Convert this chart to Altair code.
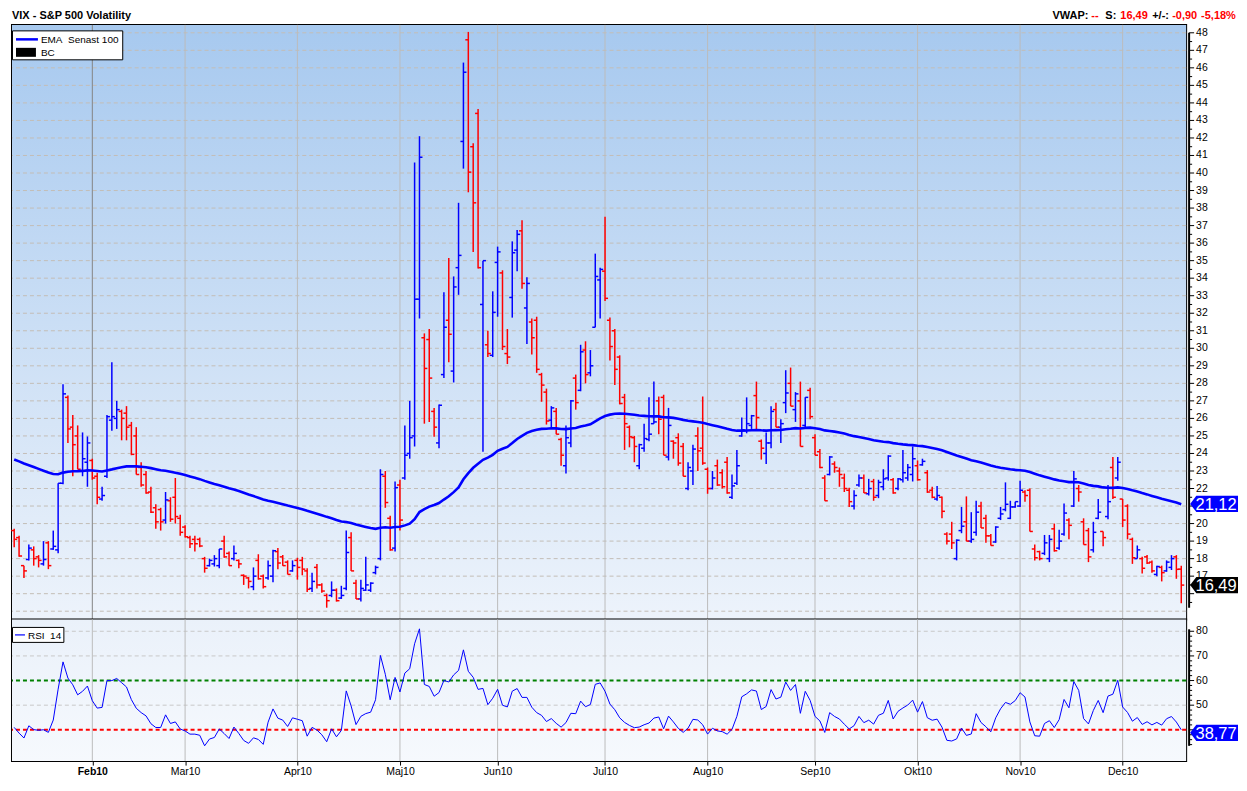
import json
import altair as alt
import pandas as pd

# ---------------- data (VIX daily bars, 7 Jan – 17 Dec 2010) -------------
opens = [19.6, 19.2, 17.6, 17.95, 18.5, 18.1, 17.7, 18.9, 18.55, 18.5,
         22.3, 27.2, 25.5, 25.0, 23.0, 23.5, 23.6, 22.7, 21.4, 22.7,
         25.9, 26.0, 26.4, 26.3, 25.6, 25.0, 23.2, 22.8, 21.8, 20.9,
         20.8, 20.2, 21.3, 21.5, 20.3, 19.8, 19.2, 19.1, 19.1, 18.0,
         17.6, 17.7, 17.6, 19.0, 18.3, 18.0, 17.9, 17.05, 16.9, 16.4,
         17.9, 17.0, 16.9, 17.0, 18.4, 18.1, 17.8, 17.3, 17.9, 17.9,
         17.3, 16.3, 17.5, 16.5, 15.9, 15.9, 16.2, 15.75, 16.3, 19.2,
         16.6, 15.7, 16.2, 16.2, 17.2, 18.0, 22.7, 20.3, 18.6, 22.2,
         22.6, 24.0, 25.0, 32.8, 30.6, 30.5, 26.4, 24.6, 28.5, 31.6,
         28.7, 34.6, 41.8, 47.6, 41.5, 43.4, 32.5, 30.2, 29.6, 34.9,
         34.3, 29.7, 32.9, 35.6, 36.7, 32.3, 31.5, 31.6, 28.5, 27.5,
         25.9, 26.4, 24.8, 23.3, 24.6, 28.3, 27.6, 29.9, 28.6, 31.2,
         33.9, 34.4, 31.6, 31.0, 29.5, 27.2, 25.5, 24.9, 23.3, 24.3,
         24.8, 25.7, 27.0, 27.2, 23.8, 24.7, 24.9, 24.4, 22.0, 23.0,
         25.0, 24.3, 23.1, 22.0, 23.3, 22.9, 23.5, 21.5, 22.3, 25.0,
         25.3, 25.6, 27.3, 24.7, 24.0, 24.6, 26.5, 25.5, 26.9, 28.0,
         26.5, 27.0, 25.6, 27.6, 24.9, 24.1, 22.6, 22.8, 23.4, 23.0,
         22.6, 21.9, 21.0, 22.2, 22.6, 21.7, 22.4, 21.6, 22.1, 22.6,
         22.5, 22.0, 22.5, 22.6, 22.8, 23.3, 23.35, 22.9, 21.9, 21.4,
         21.5, 19.4, 19.4, 18.0, 19.6, 20.1, 19.0, 19.5, 21.0, 20.3,
         19.3, 18.95, 20.3, 20.8, 20.3, 20.95, 21.0, 21.8, 21.9, 18.55,
         18.4, 18.3, 18.0, 19.7, 18.6, 19.4, 20.2, 21.0, 22.0, 20.1,
         19.6, 18.5, 20.3, 19.55, 20.4, 23.2, 22.6, 21.4, 21.0, 19.1,
         18.0, 18.0, 18.1, 17.8, 17.1, 17.5, 17.3, 17.5, 18.1, 17.4]
highs = [19.7, 19.3, 17.6, 18.8, 18.7, 18.2, 19.0, 19.0, 19.6, 22.3,
         27.95, 27.3, 26.2, 25.6, 25.2, 24.97, 23.7, 22.9, 22.1, 26.2,
         29.2, 27.0, 26.5, 26.7, 25.8, 25.5, 23.5, 23.0, 22.1, 21.1,
         20.9, 21.8, 21.5, 22.6, 20.5, 19.9, 19.3, 19.3, 19.2, 18.1,
         18.0, 18.2, 18.55, 19.3, 18.4, 18.75, 17.95, 17.1, 16.95, 17.5,
         18.25, 17.1, 17.9, 18.5, 18.6, 18.2, 17.9, 17.9, 18.05, 18.1,
         17.45, 17.2, 17.7, 16.6, 16.0, 16.7, 16.3, 16.45, 19.6, 19.5,
         16.8, 16.8, 18.1, 16.65, 17.6, 23.1, 23.0, 20.45, 22.4, 22.5,
         25.6, 27.0, 40.6, 42.1, 30.85, 31.1, 26.6, 26.8, 33.2, 35.15,
         34.1, 38.3, 46.3, 48.05, 41.7, 43.65, 35.0, 31.0, 33.25, 35.8,
         34.45, 31.1, 36.1, 36.75, 37.3, 34.05, 31.7, 31.8, 28.6, 27.7,
         26.7, 26.6, 24.9, 25.6, 27.05, 28.5, 30.2, 30.4, 29.9, 35.4,
         34.6, 37.5, 31.75, 31.1, 29.6, 27.4, 25.6, 25.0, 24.55, 25.7,
         27.2, 28.1, 27.25, 27.35, 26.6, 24.75, 25.15, 24.6, 23.5, 24.5,
         25.5, 27.25, 23.2, 23.0, 23.65, 23.1, 23.8, 22.8, 24.2, 26.05,
         27.2, 26.2, 28.1, 24.8, 25.2, 26.7, 26.9, 25.95, 28.75, 28.9,
         27.5, 28.1, 27.2, 27.75, 25.1, 24.25, 22.75, 23.85, 23.55, 23.2,
         22.85, 22.05, 21.9, 22.8, 22.8, 22.55, 22.55, 22.5, 23.1, 23.9,
         22.6, 22.6, 24.2, 23.4, 24.4, 23.6, 23.7, 23.05, 22.1, 22.15,
         21.55, 19.5, 20.1, 19.1, 20.95, 21.55, 20.65, 21.3, 21.25, 20.5,
         19.4, 19.85, 20.95, 22.35, 21.3, 21.25, 22.45, 21.9, 22.0, 18.8,
         18.45, 19.35, 19.35, 20.0, 19.65, 21.15, 20.3, 23.0, 22.2, 20.3,
         19.75, 20.1, 21.4, 19.55, 22.2, 23.8, 23.8, 21.4, 21.1, 19.2,
         18.75, 18.1, 18.2, 17.9, 17.6, 17.6, 17.9, 18.2, 18.2, 17.6]
lows = [18.65, 18.1, 16.9, 17.9, 17.6, 17.5, 17.6, 17.4, 18.5, 18.3,
        22.25, 24.6, 22.7, 23.1, 22.7, 22.1, 22.5, 21.1, 21.3, 22.6,
        25.3, 25.4, 24.75, 24.75, 23.9, 22.8, 22.1, 21.7, 20.6, 19.7,
        19.6, 20.0, 20.1, 20.0, 19.3, 19.2, 18.6, 18.4, 18.65, 17.2,
        17.55, 17.55, 17.45, 18.05, 17.6, 17.9, 17.45, 16.5, 16.3, 16.2,
        16.8, 16.3, 16.8, 16.65, 17.4, 17.6, 17.1, 17.25, 16.8, 17.05,
        16.1, 16.1, 16.3, 16.05, 15.2, 15.8, 15.55, 15.7, 16.2, 17.3,
        15.7, 15.55, 16.15, 16.1, 17.1, 17.9, 20.9, 18.45, 18.4, 19.6,
        22.5, 23.7, 24.4, 31.7, 25.7, 25.8, 24.95, 24.3, 28.3, 29.2,
        28.05, 33.05, 40.25, 38.9, 35.5, 34.55, 24.1, 29.5, 29.5, 31.8,
        29.9, 29.1, 31.75, 34.4, 33.4, 30.25, 29.65, 28.6, 26.95, 25.65,
        25.4, 25.1, 23.3, 22.85, 24.35, 26.5, 27.55, 28.0, 28.4, 31.2,
        31.7, 32.7, 29.3, 27.9, 26.8, 24.2, 24.35, 23.5, 23.1, 24.1,
        24.7, 25.7, 25.1, 23.9, 23.6, 23.7, 23.3, 22.7, 21.9, 22.2,
        23.0, 23.35, 21.7, 21.95, 22.15, 22.0, 21.7, 21.4, 22.2, 24.95,
        25.15, 25.4, 25.35, 23.65, 23.4, 24.3, 25.5, 24.6, 26.3, 26.7,
        25.8, 24.4, 25.4, 25.95, 23.9, 23.15, 21.3, 22.75, 22.9, 22.1,
        21.8, 20.95, 20.8, 22.1, 21.75, 21.6, 21.3, 21.45, 21.9, 22.45,
        21.7, 21.9, 22.35, 22.45, 22.4, 22.45, 23.3, 21.75, 21.45, 21.3,
        20.3, 18.8, 18.55, 17.9, 19.45, 19.0, 18.9, 19.3, 19.75, 18.9,
        18.75, 18.9, 20.2, 20.7, 20.25, 20.9, 20.95, 21.25, 19.55, 17.9,
        17.9, 18.2, 17.8, 18.4, 18.5, 19.3, 19.1, 20.95, 21.25, 18.8,
        17.8, 18.35, 20.25, 18.7, 20.25, 21.4, 22.45, 19.8, 19.1, 17.7,
        18.0, 17.15, 17.7, 17.2, 17.0, 16.7, 17.25, 17.35, 16.85, 15.45]
closes = [19.1, 18.15, 17.3, 18.6, 18.0, 17.9, 17.95, 17.6, 18.7, 22.3,
          27.4, 25.4, 24.5, 23.1, 23.7, 24.6, 22.6, 21.5, 21.6, 26.1,
          26.1, 26.5, 26.0, 25.5, 23.95, 22.8, 22.2, 21.75, 20.65, 20.1,
          20.1, 21.35, 20.25, 20.4, 19.5, 19.25, 18.85, 18.85, 18.72, 17.45,
          17.9, 18.0, 18.55, 18.1, 17.6, 18.3, 17.7, 17.0, 16.7, 17.0,
          16.85, 16.4, 17.6, 18.45, 17.75, 17.6, 17.1, 17.6, 17.5, 17.4,
          16.25, 16.7, 16.5, 16.15, 15.6, 16.2, 15.6, 15.9, 18.35, 17.3,
          15.7, 16.3, 16.5, 16.6, 17.5, 22.8, 21.2, 18.5, 22.05, 20.2,
          23.9, 24.9, 32.8, 40.9, 28.85, 28.3, 25.5, 26.75, 31.2, 30.8,
          33.5, 35.3, 45.75, 40.05, 38.3, 34.6, 35.0, 29.7, 32.05, 35.5,
          30.1, 29.5, 35.45, 36.5, 33.7, 33.7, 30.6, 28.8, 27.9, 25.85,
          26.6, 25.1, 23.9, 24.9, 27.0, 26.9, 29.8, 28.5, 29.0, 34.1,
          34.5, 32.85, 30.1, 28.8, 26.85, 25.7, 24.95, 24.4, 24.5, 24.85,
          25.1, 25.8, 25.95, 23.9, 25.6, 24.6, 23.45, 22.7, 23.2, 24.25,
          24.15, 23.45, 22.0, 22.6, 22.2, 22.1, 21.75, 22.15, 23.3, 25.35,
          25.7, 26.15, 26.05, 24.3, 24.6, 26.4, 25.5, 25.7, 27.45, 26.7,
          27.4, 24.4, 27.2, 26.1, 23.9, 23.2, 21.3, 23.8, 23.2, 22.8,
          22.0, 21.25, 21.6, 22.6, 21.75, 22.0, 21.5, 22.35, 22.55, 23.85,
          21.75, 22.55, 22.9, 23.2, 23.7, 22.5, 23.55, 21.8, 21.5, 21.6,
          20.7, 19.0, 18.9, 19.05, 19.85, 19.0, 19.1, 20.65, 19.75, 19.3,
          18.75, 19.8, 20.55, 21.1, 20.95, 21.25, 21.9, 21.6, 19.55, 18.05,
          18.0, 18.9, 19.1, 18.45, 19.0, 20.6, 19.9, 22.55, 21.8, 18.8,
          18.1, 19.5, 20.65, 19.2, 21.25, 21.5, 23.5, 20.2, 19.4, 18.05,
          18.5, 17.45, 17.75, 17.3, 17.55, 17.2, 17.8, 18.0, 17.39, 16.49]

month_idx = [16, 35, 58, 79, 99, 121, 142, 164, 185, 206, 227]
month_lbl = ["Feb10", "Mar10", "Apr10", "Maj10", "Jun10", "Jul10",
             "Aug10", "Sep10", "Okt10", "Nov10", "Dec10"]
price_ticks = list(range(15, 49))
price_major = list(range(16, 49))
price_labels = [v for v in range(17, 49) if v != 21]   # 16 and 21 sit under the badges
price_minor = [v + 0.5 for v in range(15, 48)]
rsi_major = [40, 50, 60, 70, 80]
rsi_labels = [50, 60, 70, 80]                          # 40 sits under the badge
rsi_grid = [50, 70, 80]
rsi_minor = [v for v in range(34, 81, 2) if v % 10 != 0]
rsi_levels = {"high": 60, "low": 40}

ema_period = 100
ema_seed = 23.66          # EMA value at the first bar
rsi_period = 14
rsi_seed_gain = 0.50      # Wilder averages before the first bar (RSI ~41 at start)
rsi_seed_loss = 0.72

last_price = 16.49
last_ema = 21.12
last_rsi = 38.77
header_title = "VIX - S&P 500 Volatility"
header_parts = [("VWAP:", "black"), ("--", "red"), ("S:", "black"), ("16,49", "red"),
                ("+/-:", "black"), ("-0,90", "red"), ("-5,18%", "red")]

# ---------------- indicators (as the charting program computes them) ----------------
alpha = 2.0 / (ema_period + 1)
ema = []
e = ema_seed
for k, c in enumerate(closes):
    if k > 0:
        e = e + alpha * (c - e)
    ema.append(e)

rsi = []
g, l = rsi_seed_gain, rsi_seed_loss
for k, c in enumerate(closes):
    if k > 0:
        d = c - closes[k - 1]
        g = (g * (rsi_period - 1) + max(d, 0)) / rsi_period
        l = (l * (rsi_period - 1) + max(-d, 0)) / rsi_period
    rsi.append(100 - 100 / (1 + g / l))

df = pd.DataFrame({
    "i": list(range(len(closes))),
    "open": opens, "high": highs, "low": lows, "close": closes,
    "ema": ema, "rsi": rsi,
})
df["dir"] = ["up" if c >= o else "down" for o, c in zip(opens, closes)]

# ---------------- layout ----------------
W, H1, H2 = 1177, 596, 142
FONT = "Liberation Sans"
BLUE = "#0000ff"
RED = "#ff0000"
BADGE = "M -1 0 L -0.74 -0.34 L 1 -0.34 L 1 0.34 L -0.74 0.34 Z"
BADGE_SIZE = 2304  # 48 px wide

x_scale = alt.Scale(domain=[-0.45, 240.0], nice=False, zero=False)
y1_scale = alt.Scale(domain=[14.53, 48.45], nice=False, zero=False)
y2_scale = alt.Scale(domain=[27.3, 84.8], nice=False, zero=False)

# an axis that draws nothing and takes no room
blank_axis = alt.Axis(labels=False, ticks=False, domain=False, grid=False, title=None,
                      minExtent=0, maxExtent=0, labelPadding=0, titlePadding=0)

one = pd.DataFrame({"a": [0]})

grad_main = alt.LinearGradient(
    gradient="linear",
    stops=[alt.GradientStop(color="#a7c9ef", offset=0),
           alt.GradientStop(color="#edf3fb", offset=1)],
    x1=0, x2=0, y1=0, y2=1)
grad_rsi = alt.LinearGradient(
    gradient="linear",
    stops=[alt.GradientStop(color="#eaf1fa", offset=0),
           alt.GradientStop(color="#f6f9fd", offset=1)],
    x1=0, x2=0, y1=0, y2=1)


def right_axis(axis_top, axis_bottom, major, minor, labels):
    """Axis line, major / minor ticks and labels, drawn 3 px right of the plot."""
    line = alt.Chart(pd.DataFrame({"a": [axis_top], "b": [axis_bottom]})).mark_rule(
        color="black", strokeWidth=2).encode(
        x=alt.value(W + 3), y="a:Q", y2="b:Q")
    maj = alt.Chart(pd.DataFrame({"v": major})).mark_rule(
        color="black", strokeWidth=1).encode(x=alt.value(W + 3), x2=alt.value(W + 8), y="v:Q")
    mnr = alt.Chart(pd.DataFrame({"v": minor})).mark_rule(
        color="black", strokeWidth=1).encode(x=alt.value(W + 3), x2=alt.value(W + 6), y="v:Q")
    lab = alt.Chart(pd.DataFrame({"v": labels, "t": [str(v) for v in labels]})).mark_text(
        align="left", baseline="middle", font=FONT, fontSize=10.5, color="black").encode(
        x=alt.value(W + 10), y="v:Q", text="t:N")
    return [line, maj, mnr, lab]


def badge(value, text, fill):
    bdf = pd.DataFrame({"v": [value], "t": [text]})
    sym = alt.Chart(bdf).mark_point(shape=BADGE, filled=True, opacity=1, size=BADGE_SIZE,
                                    strokeWidth=0, color=fill).encode(
        x=alt.value(W + 28), y="v:Q")
    txt = alt.Chart(bdf).mark_text(color="white", fontSize=16.5, font=FONT, align="center",
                                   baseline="middle", dy=1).encode(
        x=alt.value(W + 30), y="v:Q", text="t:N")
    return [sym, txt]


# ---- main panel ----
bg_main = alt.Chart(one).mark_rect(fill=grad_main).encode(
    x=alt.value(0), x2=alt.value(W), y=alt.value(0), y2=alt.value(H1))

hgrid = alt.Chart(pd.DataFrame({"g": price_ticks})).mark_rule(
    color="#c3bdb6", strokeDash=[4, 3], strokeWidth=1).encode(
    y=alt.Y("g:Q", scale=y1_scale, axis=blank_axis))

vgrid_main = alt.Chart(pd.DataFrame({"m": month_idx})).mark_rule(strokeWidth=1).encode(
    x=alt.X("m:Q", scale=x_scale, axis=blank_axis),
    color=alt.condition("datum.m == 16", alt.value("#858585"), alt.value("#bcbcbc")))

color_dir = alt.Color("dir:N", scale=alt.Scale(domain=["up", "down"], range=[BLUE, RED]),
                      legend=None)
bars = alt.Chart(df)
hl = bars.mark_rule(strokeWidth=1.5).encode(
    x="i:Q", y="low:Q", y2="high:Q", color=color_dir)
op = bars.mark_rule(strokeWidth=1.5, xOffset=-3, x2Offset=0).encode(
    x="i:Q", x2="i:Q", y="open:Q", color=color_dir)
cl = bars.mark_rule(strokeWidth=1.5, xOffset=0, x2Offset=3).encode(
    x="i:Q", x2="i:Q", y="close:Q", color=color_dir)
ema_line = bars.mark_line(color=BLUE, strokeWidth=2.6).encode(x="i:Q", y="ema:Q")

leg_box = alt.Chart(one).mark_rect(fill="white", stroke="black", strokeWidth=1).encode(
    x=alt.value(0.5), x2=alt.value(111), y=alt.value(6), y2=alt.value(35))
leg_line = alt.Chart(one).mark_rule(color=BLUE, strokeWidth=2.5).encode(
    x=alt.value(4), x2=alt.value(26), y=alt.value(14.5))
leg_t1 = alt.Chart(one).mark_text(align="left", baseline="alphabetic", font=FONT, fontSize=10,
                                  color="black", text="EMA\u00a0 Senast 100").encode(
    x=alt.value(29), y=alt.value(18.5))
leg_rect = alt.Chart(one).mark_rect(color="black").encode(
    x=alt.value(4), x2=alt.value(24), y=alt.value(23), y2=alt.value(32))
leg_t2 = alt.Chart(one).mark_text(align="left", baseline="alphabetic", font=FONT, fontSize=10,
                                  color="black", text="BC").encode(
    x=alt.value(29), y=alt.value(31.5))

HEAD_Y = -6
head = [alt.Chart(one).mark_text(align="left", baseline="alphabetic", font=FONT, fontSize=11,
                                 fontWeight="bold", color="black", text=header_title).encode(
    x=alt.value(0), y=alt.value(HEAD_Y))]
hx = [1043, 1082, 1096, 1111, 1143, 1163, 1192]
for (txt, col), xx in zip(header_parts, hx):
    head.append(alt.Chart(one).mark_text(
        align="left", baseline="alphabetic", font=FONT, fontSize=11, fontWeight="bold",
        color=("#000000" if col == "black" else RED), text=txt).encode(
        x=alt.value(xx), y=alt.value(HEAD_Y)))

main = alt.layer(
    bg_main, hgrid, vgrid_main, hl, op, cl, ema_line,
    *right_axis(48.0, 15.2, price_major, price_minor, price_labels),
    *badge(last_ema, "21,12", BLUE), *badge(last_price, "16,49", "#000000"),
    leg_box, leg_line, leg_t1, leg_rect, leg_t2, *head,
).properties(width=W, height=H1)

# ---- RSI panel ----
label_expr = ("indexof(%s, datum.value) >= 0 ? %s[indexof(%s, datum.value)] : ''"
              % (json.dumps(month_idx), json.dumps(month_lbl), json.dumps(month_idx)))
x_axis_rsi = alt.Axis(values=month_idx, grid=False, labelExpr=label_expr,
                      labelFont=FONT, labelFontSize=10.5, labelColor="black",
                      labelFontWeight={"condition": {"test": "datum.value == 16", "value": "bold"},
                                       "value": "normal"},
                      ticks=True, tickSize=4, tickColor="black", domain=False,
                      labelPadding=1, title=None, labelAngle=0, labelFlush=False,
                      labelOverlap=False)

bg_rsi = alt.Chart(one).mark_rect(fill=grad_rsi).encode(
    x=alt.value(0), x2=alt.value(W), y=alt.value(0), y2=alt.value(H2))
rgrid = alt.Chart(pd.DataFrame({"g": rsi_grid})).mark_rule(
    color="#c8c8c8", strokeDash=[4, 3], strokeWidth=1).encode(
    y=alt.Y("g:Q", scale=y2_scale, axis=blank_axis))
vgrid_rsi = alt.Chart(pd.DataFrame({"m": month_idx})).mark_rule(
    color="#bcbcbc", strokeWidth=1).encode(x=alt.X("m:Q", scale=x_scale, axis=x_axis_rsi))
th_hi = alt.Chart(pd.DataFrame({"v": [rsi_levels["high"]]})).mark_rule(
    color="#008000", strokeWidth=2, strokeDash=[4, 3]).encode(y="v:Q")
th_lo = alt.Chart(pd.DataFrame({"v": [rsi_levels["low"]]})).mark_rule(
    color=RED, strokeWidth=2, strokeDash=[4, 3]).encode(y="v:Q")
rsi_line = alt.Chart(df).mark_line(color=BLUE, strokeWidth=1).encode(x="i:Q", y="rsi:Q")
rleg_box = alt.Chart(one).mark_rect(fill="white", stroke="black", strokeWidth=1).encode(
    x=alt.value(0.5), x2=alt.value(52), y=alt.value(8), y2=alt.value(23))
rleg_line = alt.Chart(one).mark_rule(color=BLUE, strokeWidth=1.2).encode(
    x=alt.value(3), x2=alt.value(13), y=alt.value(15.5))
rleg_t = alt.Chart(one).mark_text(align="left", baseline="alphabetic", font=FONT, fontSize=10,
                                  color="black", text="RSI\u00a0 14").encode(
    x=alt.value(16), y=alt.value(19.5))

rsi_panel = alt.layer(
    bg_rsi, rgrid, vgrid_rsi, th_hi, th_lo, rsi_line,
    *right_axis(80.8, 33.5, rsi_major, rsi_minor, rsi_labels),
    *badge(last_rsi, "38,77", BLUE), rleg_box, rleg_line, rleg_t,
).properties(width=W, height=H2)

chart = alt.vconcat(main, rsi_panel, spacing=0, padding=0, bounds="flush",
                    background="white").resolve_scale(
    color="independent").configure_view(stroke="black", strokeWidth=2)

chart.save("out.html", embed_options={"renderer": "svg", "actions": False})
